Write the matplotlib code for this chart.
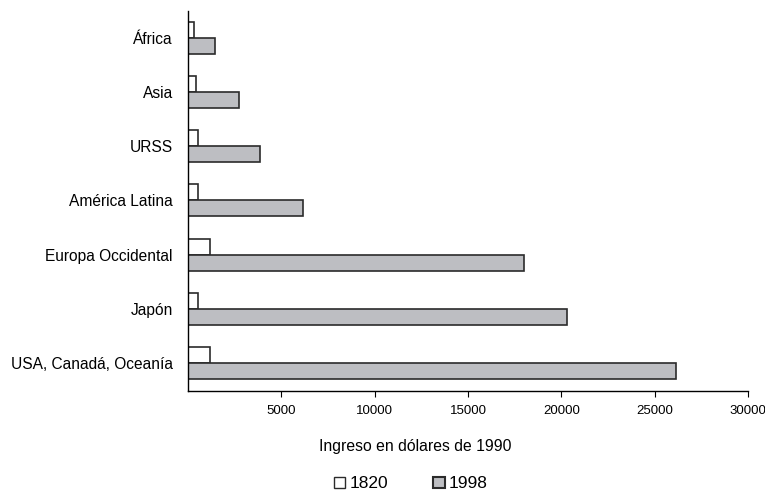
import matplotlib
matplotlib.use("Agg")
import matplotlib.pyplot as plt
import numpy as np
from matplotlib.patches import Patch

plt.rcParams['font.family'] = ['Liberation Sans', 'DejaVu Sans']

regions = ["África", "Asia", "URSS", "América Latina", "Europa Occidental",
           "Japón", "USA, Canadá, Oceanía"]
ingreso_1820 = [300, 450, 560, 560, 1150, 540, 1180]
ingreso_1998 = [1430, 2750, 3840, 6150, 18000, 20300, 26150]
xticks = [5000, 10000, 15000, 20000, 25000, 30000]

fig = plt.figure(figsize=(7.65, 4.93), dpi=100)
ax = fig.add_axes([0.2458, 0.2069, 0.7320, 0.7708])

y = np.arange(len(regions))
h = 0.296
edge = '#2b2b2b'
ax.barh(y - h / 2, ingreso_1820, height=h, color='white', edgecolor=edge, linewidth=1.2, label='1820')
ax.barh(y + h / 2, ingreso_1998, height=h, color='#bdbec2', edgecolor=edge, linewidth=1.2, label='1998')

ax.set_ylim(6.52, -0.5)
ax.set_xlim(0, 30000)
ax.set_yticks(y)
ax.set_yticklabels(regions, fontsize=11.2)
ax.tick_params(axis='y', length=0, pad=11)
ax.set_xticks(xticks)
ax.set_xticklabels([str(v) for v in xticks], fontsize=9.5)
ax.tick_params(axis='x', length=4, width=0.8, pad=6, direction='out')
for s in ['top', 'right']:
    ax.spines[s].set_visible(False)
for s in ['left', 'bottom']:
    ax.spines[s].set_linewidth(1.0)
    ax.spines[s].set_color('black')

fig.text(415 / 765, 1 - 446 / 493, "Ingreso en dólares de 1990", ha='center', va='center', fontsize=11.3)

handles = [Patch(facecolor='white', edgecolor=edge, linewidth=1.0, label='1820'),
           Patch(facecolor='#bdbec2', edgecolor=edge, linewidth=1.5, label='1998')]
fig.legend(handles=handles, loc='center', bbox_to_anchor=(411 / 765, 1 - 484 / 493), ncol=2,
           frameon=False, fontsize=12.5, handlelength=0.65, handleheight=0.65,
           handletextpad=0.25, columnspacing=2.6, borderpad=0.1)

fig.savefig("out.png", dpi=100)
